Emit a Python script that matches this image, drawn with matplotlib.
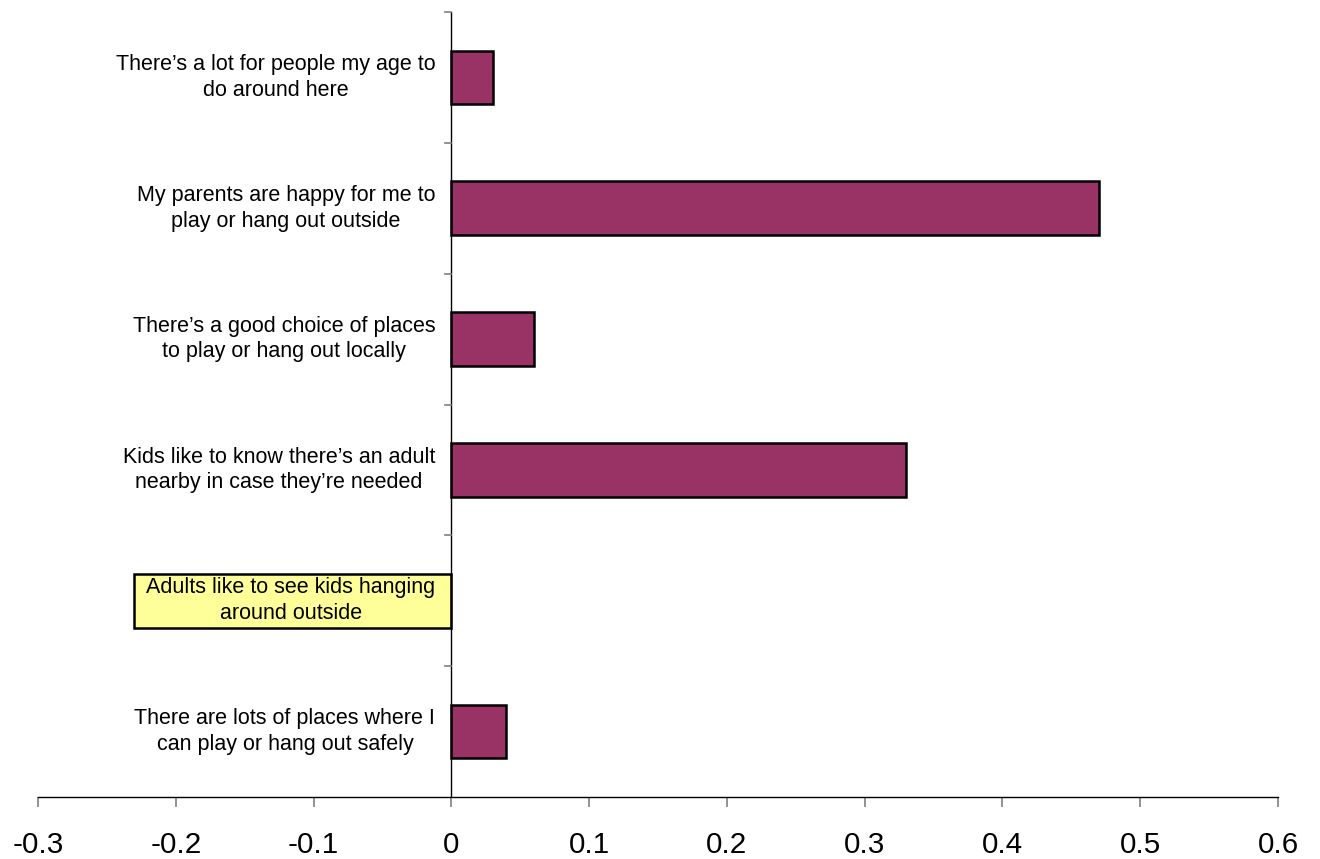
import matplotlib
matplotlib.use("Agg")
import matplotlib.pyplot as plt
import matplotlib.transforms as mtransforms

plt.rcParams['font.family'] = ['Liberation Sans', 'DejaVu Sans']

categories = [
    "There\u2019s a lot for people my age to\ndo around here",
    "My parents are happy for me to\nplay or hang out outside",
    "There\u2019s a good choice of places\nto play or hang out locally",
    "Kids like to know there\u2019s an adult\nnearby in case they\u2019re needed",
    "Adults like to see kids hanging\naround outside",
    "There are lots of places where I\ncan play or hang out safely",
]
values = [0.03, 0.47, 0.06, 0.33, -0.23, 0.04]
bar_colors = ["#993366", "#993366", "#993366", "#993366", "#FFFF99", "#993366"]
x_ticks = [-0.3, -0.2, -0.1, 0, 0.1, 0.2, 0.3, 0.4, 0.5, 0.6]
x_tick_labels = ["-0.3", "-0.2", "-0.1", "0", "0.1", "0.2", "0.3", "0.4", "0.5", "0.6"]

fig = plt.figure(figsize=(13.2, 8.59), dpi=100)
ax = fig.add_axes([38/1320, 1-797/859, (1278-38)/1320, (797-12)/859])

ypos = list(range(len(categories)))
ax.barh(ypos, values, height=0.41, color=bar_colors, edgecolor="black",
        linewidth=1.8, zorder=2)

ax.set_xlim(-0.3, 0.6)
ax.set_ylim(len(categories) - 0.5, -0.5)

for s in ["top", "right", "left"]:
    ax.spines[s].set_visible(False)
ax.spines["bottom"].set_linewidth(1.0)
ax.spines["bottom"].set_color("black")

ax.set_xticks(x_ticks)
ax.set_xticklabels(x_tick_labels, fontsize=21.3)
ax.tick_params(axis="x", direction="out", length=7.5, width=1.2, color="#808080",
               pad=17)
ax.set_yticks([])

# category axis line at x = 0
ax.axvline(0, color="black", linewidth=1.0, zorder=3)
# category boundary tick marks (short, pointing left from the category axis)
tick_trans = ax.get_yaxis_transform()
for b in range(len(categories)):
    yb = b - 0.5
    ax.plot([0 - 0.0045, 0], [yb, yb], color="#808080", linewidth=1.2,
            zorder=3, clip_on=False)

offset = mtransforms.ScaledTranslation(-16/100, 0, fig.dpi_scale_trans)
for y, lab in zip(ypos, categories):
    ax.text(0, y, lab, transform=ax.transData + offset, ha="right", va="center",
            multialignment="center", fontsize=15.5, linespacing=1.3, zorder=5)

fig.savefig("out.png", dpi=100)
